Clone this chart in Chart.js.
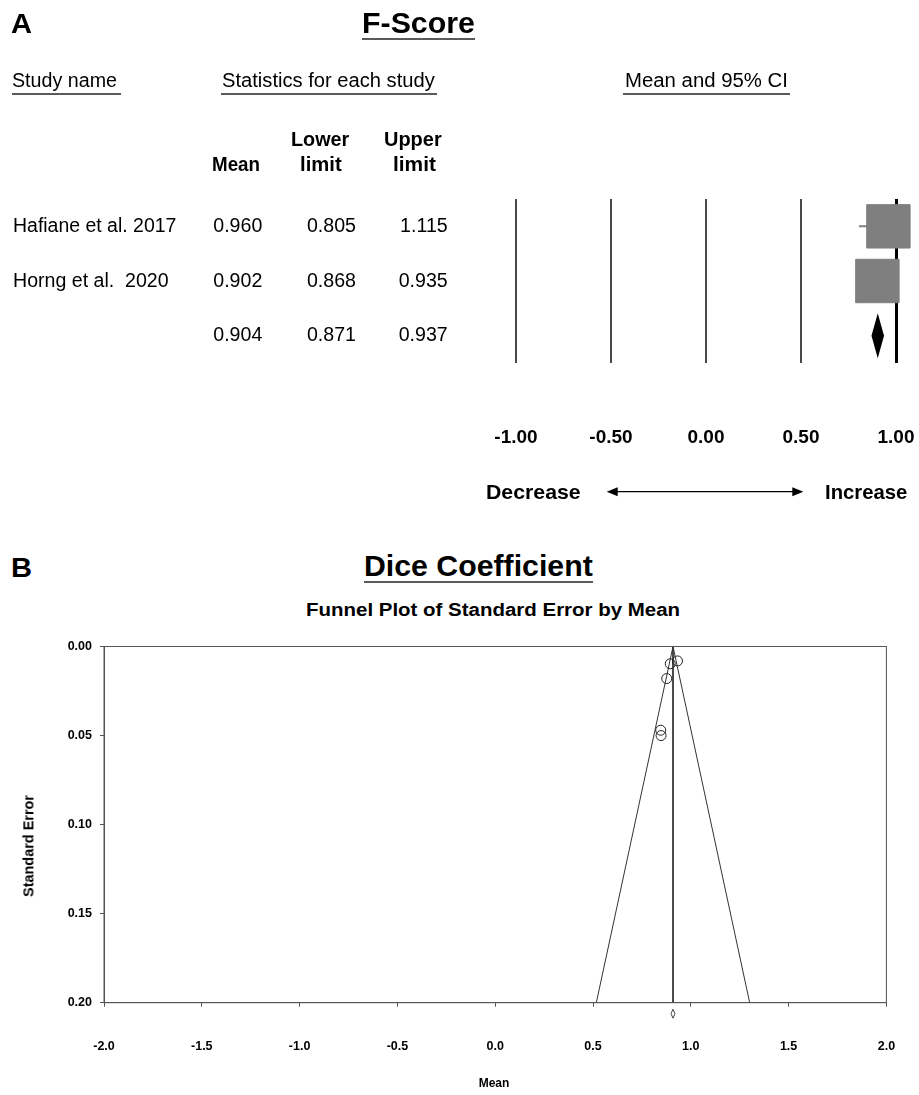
<!DOCTYPE html>
<html>
<head>
<meta charset="utf-8">
<script src="https://cdn.jsdelivr.net/npm/chart.js@4.4.1/dist/chart.umd.min.js"></script>
<style>
  html, body { margin: 0; padding: 0; background: #fff; }
  #page { position: relative; width: 919px; height: 1095px; overflow: hidden; }
  canvas { position: absolute; left: 0; }
  .txt { position: absolute; white-space: pre; line-height: 1; color: #000;
         font-family: 'Liberation Sans', Arial, sans-serif; transform-origin: 0 50%; }
  .rule { position: absolute; height: 2px; background: #5a5a5a; }
</style>
</head>
<body>
<div id="page">
  <canvas id="forest" width="919" height="540" style="top:0"></canvas>
  <canvas id="funnel" width="919" height="475" style="top:620px"></canvas>
</div>
<script>
// A: F-Score forest plot
const studies = ['Hafiane et al. 2017', 'Horng et al.  2020'];
const means = [0.960, 0.902];
const lowers = [0.805, 0.868];
const uppers = [1.115, 0.935];
const pooledMean = 0.904;
const pooledLower = 0.871;
const pooledUpper = 0.937;

// B: Dice coefficient funnel plot
const diceMeans = [0.895, 0.932, 0.877, 0.846, 0.848];
const diceSE = [0.0097, 0.0081, 0.018, 0.047, 0.050];
const dicePooled = 0.909;
const dicePooledCI = [0.899, 0.919];
const seMax = 0.20;

const FONT = "'Liberation Sans', Arial, sans-serif";
const page = document.getElementById('page');

// text helper: baseline-positioned, optionally stretched to a width
function put(text, left, right, base, size, bold, align) {
    const d = document.createElement('div');
    d.className = 'txt';
    d.textContent = text;
    d.style.fontSize = size + 'px';
    d.style.fontWeight = bold ? 'bold' : 'normal';
    d.style.top = (base - 0.8465 * size) + 'px';
    page.appendChild(d);
    const w = d.getBoundingClientRect().width;
    if (align === 'right') {
        d.style.left = (right - w) + 'px';
    } else if (align === 'center') {
        d.style.left = (left - w / 2) + 'px';
    } else {
        d.style.left = left + 'px';
        if (right != null) d.style.transform = 'scaleX(' + ((right - left) / w).toFixed(3) + ')';
    }
    return d;
}
function rule(x1, x2, y) {
    const r = document.createElement('div');
    r.className = 'rule';
    r.style.left = x1 + 'px';
    r.style.width = (x2 - x1) + 'px';
    r.style.top = y + 'px';
    page.appendChild(r);
}

// panel A headings
put('A', 11, 32, 33.3, 28, true);
put('F-Score', 362, 475, 33.3, 29, true);
rule(362, 475, 37.5);
put('Study name', 11.7, 116.7, 87.3, 19.5, false);
rule(11.7, 120.7, 92.5);
put('Statistics for each study', 222.3, 435, 87.3, 19.5, false);
rule(220.7, 437.3, 92.5);
put('Mean and 95% CI', 625, 788, 87.3, 19.5, false);
rule(623, 790, 92.5);
put('Mean', 212, 260, 171.7, 19.5, true);
put('Lower', 290.7, 349, 146.7, 19.5, true);
put('limit', 300, 341.7, 171.7, 19.5, true);
put('Upper', 384, 441.7, 146.7, 19.5, true);
put('limit', 393, 436, 171.7, 19.5, true);

// table rows
const rowBase = [232.3, 287.3, 341.7];
const nameRight = [176, 168.3];
studies.forEach((s, i) => put(s, 12.7, nameRight[i], rowBase[i], 19.5, false));
const tableRows = [
    [means[0], lowers[0], uppers[0]],
    [means[1], lowers[1], uppers[1]],
    [pooledMean, pooledLower, pooledUpper]
];
const colRight = [262.3, 356, 447.7];
tableRows.forEach((row, i) => row.forEach((v, j) =>
    put(v.toFixed(3), null, colRight[j], rowBase[i], 19.6, false, 'right')));

put('Decrease', 486, 580.7, 499, 20.5, true);
put('Increase', 825, 907.3, 499, 20.5, true);

// panel B headings
put('B', 11, 32, 577.5, 28, true);
put('Dice Coefficient', 364, 592.7, 576.7, 30, true);
rule(364, 593, 580.5);
put('Funnel Plot of Standard Error by Mean', 306, 680, 616, 18, true);
put('Mean', 494, null, 1087, 12, true, 'center');
const se = put('Standard Error', 0, null, 0, 14, true);
{
    const w = se.getBoundingClientRect().width;
    se.style.left = (28 - w / 2) + 'px';
    se.style.top = (846 - 7) + 'px';
    se.style.transformOrigin = '50% 50%';
    se.style.transform = 'rotate(-90deg) scaleX(' + (102 / w).toFixed(3) + ')';
}

// tick padding must not widen the plot area
function fixX(h) {
    return s => { s.height = h; s.paddingLeft = 0; s.paddingRight = 0; };
}

const forestExtras = {
    id: 'forestExtras',
    afterDatasetsDraw(chart) {
        const { ctx, scales: { x, y } } = chart;
        const cy = y.getPixelForValue(2.5);
        ctx.save();
        ctx.fillStyle = '#000';
        ctx.beginPath();
        ctx.moveTo(x.getPixelForValue(pooledLower), cy);
        ctx.lineTo(x.getPixelForValue(pooledMean), cy - 22.5);
        ctx.lineTo(x.getPixelForValue(pooledUpper), cy);
        ctx.lineTo(x.getPixelForValue(pooledMean), cy + 22.5);
        ctx.closePath();
        ctx.fill();
        ctx.restore();
    },
    afterDraw(chart) {
        // decrease / increase arrow
        const ctx = chart.ctx, y = 491.7, a = 606.7, b = 803.3;
        ctx.save();
        ctx.strokeStyle = '#000';
        ctx.fillStyle = '#000';
        ctx.lineWidth = 1.3;
        ctx.beginPath();
        ctx.moveTo(a + 8, y);
        ctx.lineTo(b - 8, y);
        ctx.stroke();
        ctx.beginPath();
        ctx.moveTo(a, y); ctx.lineTo(a + 11, y - 4.5); ctx.lineTo(a + 11, y + 4.5); ctx.closePath();
        ctx.moveTo(b, y); ctx.lineTo(b - 11, y - 4.5); ctx.lineTo(b - 11, y + 4.5); ctx.closePath();
        ctx.fill();
        ctx.restore();
    }
};

new Chart(document.getElementById('forest'), {
    type: 'scatter',
    data: {
        datasets: [
            {
                data: means.map((m, i) => ({ x: m, y: i + 0.5 })),
                pointStyle: 'rect',
                pointRadius: 30.7,
                backgroundColor: '#7f7f7f',
                borderColor: '#7f7f7f',
                borderWidth: 1,
                clip: false,
                order: 0
            },
            ...studies.map((s, i) => ({
                data: [{ x: lowers[i], y: i + 0.5 }, { x: uppers[i], y: i + 0.5 }],
                showLine: true,
                borderColor: '#7f7f7f',
                borderWidth: 2,
                pointRadius: 0,
                order: 1
            }))
        ]
    },
    options: {
        responsive: false,
        animation: false,
        events: [],
        layout: { autoPadding: false, padding: { left: 516, right: 23, top: 199, bottom: 0 } },
        plugins: { legend: { display: false }, tooltip: { enabled: false } },
        scales: {
            x: {
                type: 'linear', min: -1, max: 1,
                afterFit: fixX(177),
                ticks: {
                    stepSize: 0.5, padding: 63, color: '#000', maxRotation: 0, autoSkip: false,
                    font: { family: FONT, size: 19, weight: 'bold' },
                    callback: v => v.toFixed(2)
                },
                grid: {
                    drawTicks: false,
                    color: c => (c.tick && c.tick.value === 1) ? '#000' : '#4a4a4a',
                    lineWidth: c => (c.tick && c.tick.value === 1) ? 3 : 2
                },
                border: { display: false }
            },
            y: { type: 'linear', min: 0, max: 3, reverse: true, display: false }
        }
    },
    plugins: [forestExtras]
});

const funnelExtras = {
    id: 'funnelExtras',
    afterDraw(chart) {
        const { ctx, chartArea: a, scales: { x } } = chart;
        ctx.save();
        ctx.strokeStyle = '#555';
        ctx.lineWidth = 1;
        ctx.strokeRect(a.left, a.top, a.right - a.left, a.bottom - a.top);
        // pooled estimate diamond under the axis
        const cx = x.getPixelForValue(dicePooled), cy = a.bottom + 11;
        ctx.strokeStyle = '#444';
        ctx.beginPath();
        ctx.moveTo(x.getPixelForValue(dicePooledCI[0]), cy);
        ctx.lineTo(cx, cy - 4.5);
        ctx.lineTo(x.getPixelForValue(dicePooledCI[1]), cy);
        ctx.lineTo(cx, cy + 4.5);
        ctx.closePath();
        ctx.stroke();
        ctx.restore();
    }
};

const tickFont = { family: FONT, size: 12.5, weight: 'bold' };
new Chart(document.getElementById('funnel'), {
    type: 'scatter',
    data: {
        datasets: [
            {
                data: diceMeans.map((m, i) => ({ x: m, y: diceSE[i] })),
                pointStyle: 'circle',
                pointRadius: 5,
                borderColor: '#222',
                borderWidth: 1,
                backgroundColor: 'rgba(0,0,0,0)'
            },
            {
                data: [
                    { x: dicePooled - 1.96 * seMax, y: seMax },
                    { x: dicePooled, y: 0 },
                    { x: dicePooled + 1.96 * seMax, y: seMax }
                ],
                showLine: true, borderColor: '#333', borderWidth: 1, pointRadius: 0
            },
            {
                data: [{ x: dicePooled, y: 0 }, { x: dicePooled, y: seMax }],
                showLine: true, borderColor: '#333', borderWidth: 1, pointRadius: 0
            }
        ]
    },
    options: {
        responsive: false,
        animation: false,
        events: [],
        layout: { autoPadding: false, padding: { left: 0, right: 32.6, top: 26.5, bottom: 0 } },
        plugins: { legend: { display: false }, tooltip: { enabled: false } },
        scales: {
            x: {
                type: 'linear', min: -2, max: 2,
                afterFit: fixX(92.3),
                ticks: {
                    stepSize: 0.5, padding: 32, color: '#000', maxRotation: 0, autoSkip: false,
                    font: tickFont, callback: v => v.toFixed(1)
                },
                grid: { drawOnChartArea: false, tickLength: 4, color: '#555' },
                border: { color: '#555' }
            },
            y: {
                type: 'linear', min: 0, max: seMax, reverse: true,
                afterFit: s => { s.width = 104; s.paddingTop = 0; s.paddingBottom = 0; },
                ticks: {
                    stepSize: 0.05, padding: 8, color: '#000',
                    font: tickFont, callback: v => v.toFixed(2)
                },
                grid: { drawOnChartArea: false, tickLength: 4, color: '#555' },
                border: { color: '#555' }
            }
        }
    },
    plugins: [funnelExtras]
});
</script>
</body>
</html>
